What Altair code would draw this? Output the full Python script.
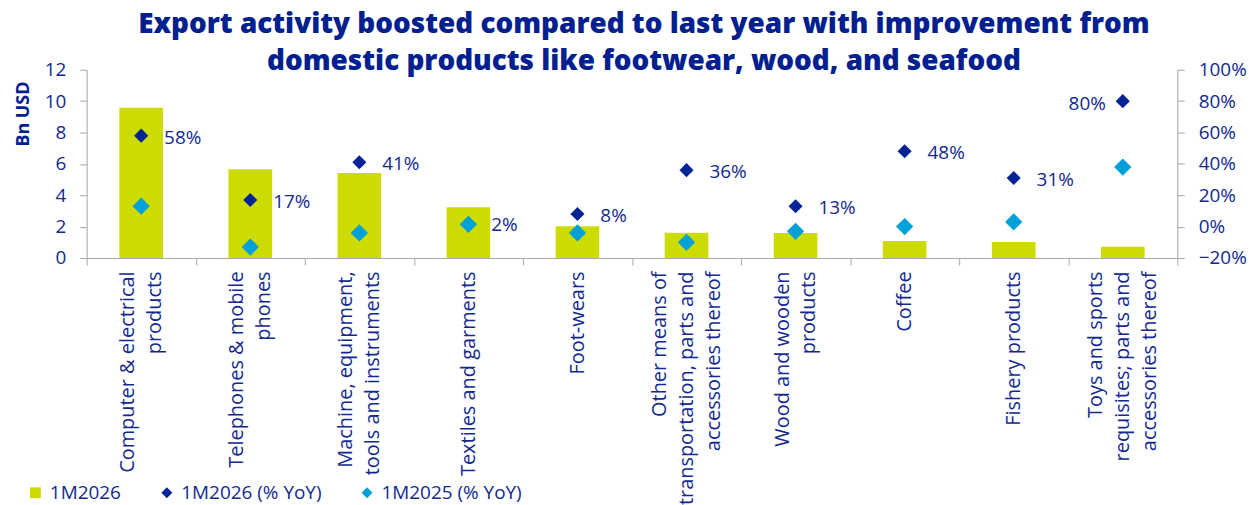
import altair as alt
import pandas as pd

categories = [
    "Computer & electrical\nproducts",
    "Telephones & mobile\nphones",
    "Machine, equipment,\ntools and instruments",
    "Textiles and garments",
    "Foot-wears",
    "Other means of\ntransportation, parts and\naccessories thereof",
    "Wood and wooden\nproducts",
    "Coffee",
    "Fishery products",
    "Toys and sports\nrequisites; parts and\naccessories thereof",
]
export_bn = [9.57, 5.65, 5.42, 3.24, 2.03, 1.61, 1.59, 1.08, 1.02, 0.72]
yoy_2026 = [58, 17, 41, 2, 8, 36, 13, 48, 31, 80]
yoy_2025 = [13, -13, -4, 1.5, -4, -10, -3, 0, 3, 38]
series_names = ["1M2026", "1M2026 (% YoY)", "1M2025 (% YoY)"]
left_ticks = [0, 2, 4, 6, 8, 10, 12]
right_ticks = [-0.2, 0, 0.2, 0.4, 0.6, 0.8, 1.0]

GREEN = "#cddc00"
DARK = "#002395"
LIGHT = "#00a0d8"
TEXT = "#13298f"
TITLE = "#00208f"
GRAY = "#a6a6a6"
FONT = "Open Sans"
LINE_H = 27

bars_df = pd.DataFrame({"category": categories, "value": export_bn, "series": series_names[0]})
pts_df = pd.DataFrame({
    "category": categories * 2,
    "pct": [v / 100 for v in yoy_2026 + yoy_2025],
    "series": [series_names[1]] * len(categories) + [series_names[2]] * len(categories),
})

color_scale = alt.Scale(domain=series_names, range=[GREEN, DARK, LIGHT])
shape_scale = alt.Scale(domain=series_names, range=["square", "diamond", "diamond"])
legend = alt.Legend(
    title=None, orient="none", direction="horizontal", legendX=-61, legendY=415,
    labelFontSize=19, labelFont=FONT, labelColor=TEXT, symbolSize=120,
    symbolStrokeWidth=0, columnPadding=36, labelOffset=5, labelLimit=300,
)

x_enc = alt.X(
    "category:N", sort=categories,
    scale=alt.Scale(paddingInner=0, paddingOuter=0),
    axis=alt.Axis(
        title=None, labelAngle=-90, labelAlign="right", labelBaseline="middle",
        labelExpr="split(datum.label, '\\n')", labelLineHeight=LINE_H,
        labelOffset=alt.ExprRef(f"-(length(split(datum.label, '\\n')) - 1) * {LINE_H / 2}"),
        labelFontSize=20, labelFont=FONT, labelColor=TEXT, labelPadding=6,
        labelLimit=400, tickBand="extent", tickSize=7, tickColor=GRAY,
        domainColor=GRAY, labelOverlap=False,
    ),
)

bars = alt.Chart(bars_df).mark_bar(width=alt.RelativeBandSize(0.4)).encode(
    x=x_enc,
    y=alt.Y(
        "value:Q", scale=alt.Scale(domain=[0, 12], nice=False),
        axis=alt.Axis(
            values=left_ticks, title="Bn USD", titleFontSize=18, titleFont=FONT,
            titleFontWeight="bold", titleColor=TITLE, titleX=-54, titleY=44,
            labelFontSize=19, labelFont=FONT, labelColor=TEXT, labelPadding=14,
            tickSize=7, tickColor=GRAY, domainColor=GRAY, grid=False,
        ),
    ),
    color=alt.Color("series:N", scale=color_scale, legend=legend),
)

y_right = alt.Y(
    "pct:Q", scale=alt.Scale(domain=[-0.2, 1.0], nice=False),
    axis=alt.Axis(
        orient="right", values=right_ticks, format=".0%", title=None,
        labelFontSize=19, labelFont=FONT, labelColor=TEXT, labelPadding=14,
        tickSize=7, tickColor=GRAY, domainColor=GRAY, grid=False,
    ),
)

base_pts = alt.Chart(pts_df).encode(x=alt.X("category:N", sort=categories), y=y_right)

dark_pts = base_pts.transform_filter(alt.datum.series == series_names[1]).mark_point(
    filled=True, opacity=1, size=200
).encode(
    color=alt.Color("series:N", scale=color_scale, legend=legend),
    shape=alt.Shape("series:N", scale=shape_scale, legend=legend),
)
light_pts = base_pts.transform_filter(alt.datum.series == series_names[2]).mark_point(
    filled=True, opacity=1, size=300
).encode(
    color=alt.Color("series:N", scale=color_scale, legend=legend),
    shape=alt.Shape("series:N", scale=shape_scale, legend=legend),
)

last_cat = categories[-1]
labels_right = base_pts.transform_filter(
    (alt.datum.series == series_names[1]) & (alt.datum.category != last_cat)
).mark_text(align="left", baseline="middle", dx=23, dy=2, fontSize=19, font=FONT, color=TEXT).encode(
    text=alt.Text("pct:Q", format=".0%")
)
labels_left = base_pts.transform_filter(
    (alt.datum.series == series_names[1]) & (alt.datum.category == last_cat)
).mark_text(align="right", baseline="middle", dx=-17, dy=3, fontSize=19, font=FONT, color=TEXT).encode(
    text=alt.Text("pct:Q", format=".0%")
)

right_layer = alt.layer(dark_pts, light_pts, labels_right, labels_left)

chart = alt.layer(bars, right_layer).resolve_scale(y="independent").properties(
    width=1095, height=189,
    title=alt.TitleParams(
        text=["Export activity boosted compared to last year with improvement from",
              "domestic products like footwear, wood, and seafood"],
        fontSize=28, font=FONT, fontWeight=800, color=TITLE, anchor="middle",
        lineHeight=37, offset=-15, dx=12,
    ),
    padding={"left": 7, "top": 2, "right": 0, "bottom": 0},
).configure_view(stroke=None)

chart.save("out.html", embed_options={"renderer": "svg", "actions": False})
